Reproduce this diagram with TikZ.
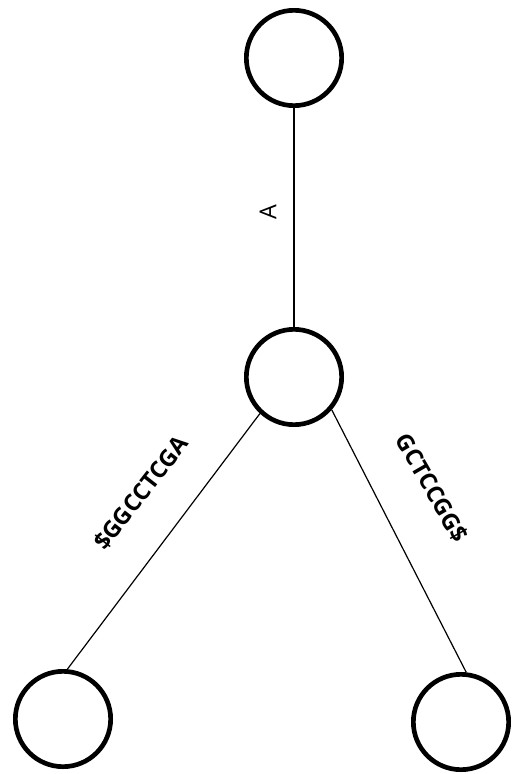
\documentclass[tikz,border=0pt]{standalone}
\usepackage{fontspec}
\setmainfont{Open Sans}

\begin{document}
\begin{tikzpicture}[x=0.75pt, y=-0.75pt,
	vertex/.style={shape=circle, draw, line width=3.5pt, minimum size=71.5pt, inner sep=0pt},
	branch/.style={line width=0.9pt},
	edgelabel/.style={font=\fontsize{17.5}{20}\selectfont\bfseries, inner sep=0pt}]
	\useasboundingbox (0, 0) rectangle (511, 774);
	\node[vertex](N1) at (294, 58){};
	\node[vertex](N2) at (294, 377){};
	\node[vertex](N3) at (63, 719){};
	\node[vertex](N4) at (461, 722){};
	\draw[branch] (N1) -- (N2);
	\draw[branch] (N2.227) -- (N3.85);
	\draw[branch] (N2.319) -- (N4.84);
	\node[edgelabel, font=\fontsize{17.5}{20}\selectfont, rotate=90](L1) at (268, 212){A};
	\node[edgelabel, rotate=52](L2) at (141, 493){\$GGCCTCGA};
	\node[edgelabel, rotate=-60](L3) at (432, 488){GCTCCGG\$};
\end{tikzpicture}
\end{document}
